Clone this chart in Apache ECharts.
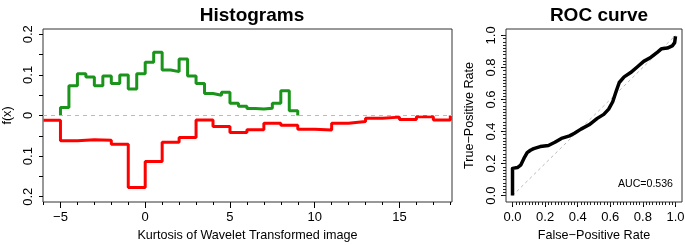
<!DOCTYPE html>
<html>
<head>
<meta charset="utf-8">
<script src="https://cdn.jsdelivr.net/npm/echarts@6/dist/echarts.min.js"></script>
<style>
  html, body { margin: 0; padding: 0; background: #fff; }
  #chart { width: 685px; height: 245px; }
</style>
</head>
<body>
<div id="chart"></div>
<script>
// histogram of class 1 (green), bins of 0.5 starting at -5
const greenStart = -5
const greenWidth = 0.5
const greenValues = [0.020, 0.073, 0.103, 0.095, 0.073, 0.097, 0.079, 0.100, 0.065, 0.103,
  0.131, 0.156, 0.112, 0.108, 0.139, 0.097, 0.079, 0.054, 0.050, 0.057,
  0.030, 0.023, 0.017, 0.016, 0.018, 0.030, 0.061, 0.012]

// histogram of class 0 (red, drawn downward), bins of 1 starting at -6
const redStart = -6
const redWidth = 1
const redValues = [0.012, 0.062, 0.060, 0.061, 0.071, 0.177, 0.113, 0.066, 0.054, 0.011,
  0.027, 0.042, 0.035, 0.019, 0.024, 0.034, 0.036, 0.019, 0.015, 0.007,
  0.004, 0.010, 0.003, 0.011]

const histXLabels = [-5, 0, 5, 10, 15]
const histYLabels = [-0.2, -0.1, 0, 0.1, 0.2]
const histYTicks = [-0.2, -0.15, -0.1, -0.05, 0, 0.05, 0.1, 0.15, 0.2]

// ROC curve
const fpr = [0, 0, 0.01, 0.03, 0.05, 0.07, 0.09, 0.11, 0.13, 0.17, 0.22, 0.26, 0.30, 0.35, 0.38,
  0.42, 0.47, 0.52, 0.56, 0.59, 0.615, 0.635, 0.655, 0.685, 0.725, 0.765, 0.805, 0.85, 0.89,
  0.915, 0.95, 0.98, 0.995, 1.0]
const tpr = [0, 0.17, 0.172, 0.175, 0.19, 0.232, 0.268, 0.283, 0.293, 0.306, 0.313, 0.333, 0.357,
  0.373, 0.389, 0.415, 0.442, 0.482, 0.507, 0.54, 0.586, 0.648, 0.706, 0.741, 0.768, 0.803,
  0.838, 0.864, 0.896, 0.917, 0.921, 0.934, 0.955, 0.995]
const rocTicks = [0, 0.2, 0.4, 0.6, 0.8, 1.0]
const aucText = 'AUC=0.536'

const FONT = 'Liberation Sans'
const MINUS = '\u2212'

// turn bin values into step points (left edge, value) and close at the last right edge
function stepData(start, width, values, sign) {
  const pts = [[start, 0]]
  values.forEach((v, i) => pts.push([start + i * width, sign * v]))
  const end = start + values.length * width
  pts.push([end, sign * values[values.length - 1]])
  pts.push([end, 0])
  return pts
}

function rangeTicks(from, to, step) {
  const out = []
  for (let v = from; v <= to + 1e-9; v += step) out.push(+v.toFixed(4))
  return out
}

const fmtMinus = s => String(s).replace('-', MINUS)

const labelStyle = { color: '#000', fontSize: 13, fontFamily: FONT }
const nameStyle = { color: '#000', fontSize: 12.6, fontFamily: FONT }
const noLine = { show: false, onZero: false }

const chart = echarts.init(document.getElementById('chart'))

const option = {
  animation: false,
  backgroundColor: '#fff',
  title: [
    { text: 'Histograms', left: 247, top: 1, textAlign: 'center',
      textStyle: { fontSize: 19, fontWeight: 'bold', fontFamily: FONT, color: '#000' } },
    { text: 'ROC curve', left: 594, top: 1, textAlign: 'center',
      textStyle: { fontSize: 19, fontWeight: 'bold', fontFamily: FONT, color: '#000' } }
  ],
  grid: [
    { left: 43, top: 29, width: 409, height: 173, show: true, borderColor: '#333', borderWidth: 1,
      outerBoundsMode: 'none' },
    { left: 506, top: 29, width: 176, height: 173, show: true, borderColor: '#333', borderWidth: 1,
      outerBoundsMode: 'none' }
  ],
  xAxis: [
    {
      gridIndex: 0, type: 'value', position: 'bottom', min: -6.03, max: 18.1,
      axisLine: noLine, splitLine: { show: false },
      axisTick: { customValues: histXLabels, length: 6, lineStyle: { color: '#000' } },
      axisLabel: { customValues: histXLabels, formatter: v => fmtMinus(v), margin: 9, ...labelStyle },
      name: 'Kurtosis of Wavelet Transformed image', nameLocation: 'middle', nameGap: 27,
      nameTextStyle: nameStyle
    },
    {
      gridIndex: 0, type: 'value', position: 'bottom', min: -6.03, max: 18.1,
      axisLine: noLine, splitLine: { show: false },
      axisTick: { customValues: rangeTicks(-6, 18, 1), length: 3, lineStyle: { color: '#000' } },
      axisLabel: { show: false }
    },
    {
      gridIndex: 1, type: 'value', position: 'bottom', min: -0.04, max: 1.04,
      axisLine: noLine, splitLine: { show: false },
      axisTick: { customValues: rocTicks, length: 5, lineStyle: { color: '#000' } },
      axisLabel: { customValues: rocTicks, formatter: v => v.toFixed(1), margin: 9, ...labelStyle },
      name: 'False\u2212Positive Rate', nameLocation: 'middle', nameGap: 27,
      nameTextStyle: nameStyle
    },
    {
      gridIndex: 1, type: 'value', position: 'bottom', min: -0.04, max: 1.04,
      axisLine: noLine, splitLine: { show: false },
      axisTick: { customValues: rangeTicks(0, 1, 0.02), length: 3, lineStyle: { color: '#222' } },
      axisLabel: { show: false }
    }
  ],
  yAxis: [
    {
      gridIndex: 0, type: 'value', position: 'left', min: -0.213, max: 0.213,
      axisLine: noLine, splitLine: { show: false },
      axisTick: { customValues: histYTicks, length: 4, lineStyle: { color: '#000' } },
      axisLabel: {
        customValues: histYLabels, rotate: 90, margin: 8, ...labelStyle,
        formatter: v => String(Math.abs(v))
      },
      name: 'f(x)', nameLocation: 'middle', nameGap: 28, nameTextStyle: nameStyle
    },
    {
      gridIndex: 1, type: 'value', position: 'left', min: -0.04, max: 1.04,
      axisLine: noLine, splitLine: { show: false },
      axisTick: { customValues: rocTicks, length: 5, lineStyle: { color: '#000' } },
      axisLabel: { customValues: rocTicks, rotate: 90, margin: 8, formatter: v => v.toFixed(1), ...labelStyle },
      name: 'True\u2212Positive Rate', nameLocation: 'middle', nameGap: 30, nameTextStyle: nameStyle
    },
    {
      gridIndex: 1, type: 'value', position: 'left', min: -0.04, max: 1.04,
      axisLine: noLine, splitLine: { show: false },
      axisTick: { customValues: rangeTicks(0, 1, 0.02), length: 3, lineStyle: { color: '#222' } },
      axisLabel: { show: false }
    }
  ],
  series: [
    {
      name: 'zero', type: 'line', xAxisIndex: 0, yAxisIndex: 0, data: [],
      markLine: {
        silent: true, symbol: 'none', label: { show: false },
        lineStyle: { color: '#bbb', type: [4, 4], width: 1 },
        data: [{ yAxis: 0 }]
      }
    },
    {
      name: 'green', type: 'line', step: 'end', xAxisIndex: 0, yAxisIndex: 0,
      showSymbol: false, symbol: 'none',
      lineStyle: { color: '#1a941a', width: 3 },
      data: stepData(greenStart, greenWidth, greenValues, 1)
    },
    {
      name: 'red', type: 'line', step: 'end', xAxisIndex: 0, yAxisIndex: 0,
      showSymbol: false, symbol: 'none',
      lineStyle: { color: '#ff0000', width: 3 },
      data: stepData(redStart, redWidth, redValues, -1).slice(1)
    },
    {
      name: 'diag', type: 'line', xAxisIndex: 2, yAxisIndex: 1,
      showSymbol: false, symbol: 'none',
      lineStyle: { color: '#bbb', type: [3, 3], width: 1 },
      data: [[0, 0], [1, 1]]
    },
    {
      name: 'roc', type: 'line', xAxisIndex: 2, yAxisIndex: 1,
      showSymbol: false, symbol: 'none',
      lineStyle: { color: '#000', width: 3.5, join: 'round' },
      data: fpr.map((x, i) => [x, tpr[i]])
    }
  ],
  graphic: [
    {
      type: 'text', right: 12, top: 179,
      style: { text: aucText, fill: '#000', fontSize: 10.6, fontFamily: FONT }
    }
  ]
}

chart.setOption(option)
</script>
</body>
</html>
